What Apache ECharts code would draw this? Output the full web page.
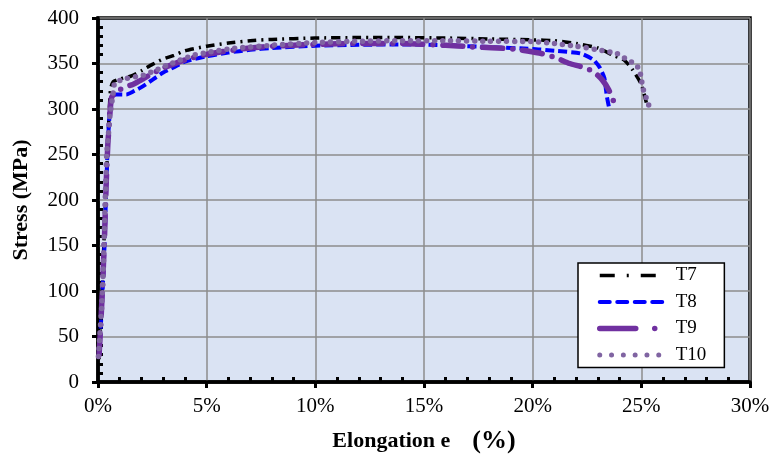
<!DOCTYPE html>
<html>
<head>
<meta charset="utf-8">
<script src="https://cdn.jsdelivr.net/npm/echarts@6/dist/echarts.min.js"></script>
<style>
  html, body { margin: 0; padding: 0; background: #fff; }
  #chart { width: 773px; height: 465px; }
</style>
</head>
<body>
<div id="chart"></div>
<script>
// Tensile test curves: elongation (%) vs. stress (MPa)
const seriesNames = ['T7', 'T8', 'T9', 'T10'];

const t7Strain = [0.05, 0.2, 0.35, 0.45, 0.52, 0.58, 0.7, 1.0, 1.5, 2.0, 2.5, 3.0, 3.5, 4.0, 5.0, 6.0, 7.0, 8.0, 10, 12, 14, 16, 18, 20, 21, 22, 23, 23.7, 24.2, 24.6, 25.0, 25.25];
const t7Stress = [25, 110, 200, 260, 300, 322, 330, 333, 336, 342, 349, 355, 359, 364, 369, 372.5, 375, 376.5, 378, 378.5, 378.5, 378, 377, 376, 375, 372, 367, 359, 354, 343, 327, 305];

const t8Strain = [0.05, 0.15, 0.25, 0.3, 0.4, 0.47, 0.55, 0.65, 0.8, 1.0, 1.3, 1.6, 2.0, 2.5, 3.0, 3.5, 4.0, 5.0, 6.0, 7.0, 8.0, 10, 12, 14, 16, 18, 20, 21, 22.2, 22.8, 23.1, 23.3, 23.38, 23.42, 23.52];
const t8Stress = [30, 70, 120, 150, 230, 270, 298, 312, 316, 316, 316, 319, 324, 332, 340, 346, 352, 358, 362, 365, 367, 369.5, 370.5, 371, 370, 368, 366, 364, 361, 354, 345, 334, 320, 313, 301];

const t9Strain = [0.05, 0.12, 0.2, 0.3, 0.38, 0.45, 0.55, 0.63, 0.86, 1.24, 1.6, 2.0, 2.5, 3.0, 4.0, 5.0, 6.0, 7.0, 8.0, 10, 12, 14, 16, 17.1, 19.1, 20.3, 21.0, 21.7, 22.3, 22.8, 23.2, 23.5, 23.7, 23.8];
const t9Stress = [30, 60, 100, 160, 220, 260, 295, 313, 319, 324, 327, 332, 339, 345, 354, 360, 364, 367, 369, 371, 372, 372, 370, 368.4, 366, 361.5, 357, 350, 346, 341, 332, 321, 310, 302];

const t10Strain = [0.02, 0.08, 0.17, 0.24, 0.32, 0.4, 0.47, 0.55, 0.63, 0.7, 0.78, 1.32, 2.08, 2.6, 3.16, 4.38, 5.0, 6.23, 8.0, 10, 12, 14, 16, 18, 20, 21, 22, 23, 23.87, 24.33, 24.67, 24.91, 25.0, 25.1, 25.25, 25.4];
const t10Stress = [28, 50, 82, 122, 190, 250, 269, 293, 306, 318, 328.8, 333.6, 337, 342, 348, 359, 362, 366.6, 370, 373, 374.5, 375, 375, 374.5, 374, 372, 369, 365, 361, 354.5, 350, 343.5, 332.5, 320.7, 310.5, 300];

const xTicks = { min: 0, max: 30, step: 5 };
const yTicks = { min: 0, max: 400, step: 50 };

function pairs(xs, ys) {
  return xs.map((x, i) => [x, ys[i]]);
}

const serif = 'Liberation Serif';
const chart = echarts.init(document.getElementById('chart'), null, { renderer: 'canvas' });

// stroke styles of the curves
const lineStyles = [
  { color: '#000000', width: 3.5, type: [9, 5, 2, 5], cap: 'butt' },
  { color: '#0000ff', width: 4, type: [9, 4], cap: 'butt' },
  { color: '#7030a0', width: 5.5, type: [20, 10, 0, 10], cap: 'round' },
  { color: '#8064a2', width: 5.5, type: [0, 8], cap: 'round' }
];
// longer dash patterns for the legend keys
const legendDashes = [
  { type: [15, 12, 2, 12], cap: 'butt', width: 3.5 },
  { type: [10, 7.5], cap: 'round', width: 4 },
  { type: [36, 19, 0, 30], cap: 'round', width: 5.5 },
  { type: [0, 11.8], cap: 'round', width: 5 }
];
const dataSets = [
  pairs(t7Strain, t7Stress),
  pairs(t8Strain, t8Stress),
  pairs(t9Strain, t9Stress),
  pairs(t10Strain, t10Stress)
];

chart.setOption({
  animation: false,
  backgroundColor: '#ffffff',
  grid: {
    left: 98, right: 23, top: 18, bottom: 83,
    show: true,
    backgroundColor: '#dae3f3',
    borderColor: '#000000',
    borderWidth: 3.5
  },
  legend: {
    left: 578, top: 263,
    orient: 'vertical',
    backgroundColor: '#ffffff',
    borderColor: '#000000',
    borderWidth: 1.5,
    borderRadius: 0,
    padding: [3, 18, 3, 19],
    itemWidth: 63,
    itemHeight: 14,
    itemGap: 7.5,
    data: seriesNames.map((name, i) => ({ name: name, lineStyle: legendDashes[i] })),
    itemStyle: { opacity: 0 },
    lineStyle: { width: 'inherit', type: 'inherit', cap: 'inherit' },
    textStyle: { fontFamily: serif, fontSize: 19, color: '#000', padding: [0, 0, 0, 8] }
  },
  xAxis: {
    type: 'value',
    min: xTicks.min, max: xTicks.max, interval: xTicks.step,
    name: '{a|Elongation e}{b|(%)}',
    nameLocation: 'middle',
    nameGap: 46,
    nameTextStyle: {
      rich: {
        a: { fontFamily: serif, fontSize: 22, fontWeight: 'bold', color: '#000', padding: [0, 22, 0, 0] },
        b: { fontFamily: serif, fontSize: 26, fontWeight: 'bold', color: '#000' }
      }
    },
    axisLine: { show: true, onZero: false, lineStyle: { color: '#000', width: 3.5 } },
    axisTick: { show: true, length: 6, lineStyle: { color: '#000', width: 3 } },
    minorTick: { show: true, splitNumber: 5, length: -5, lineStyle: { color: '#000', width: 3 } },
    splitLine: { show: true, lineStyle: { color: '#8c8c8c', width: 1.5 } },
    axisLabel: { formatter: '{value}%', fontFamily: serif, fontSize: 21, color: '#000', margin: 14 }
  },
  yAxis: {
    type: 'value',
    min: yTicks.min, max: yTicks.max, interval: yTicks.step,
    name: 'Stress (MPa)',
    nameLocation: 'middle',
    nameGap: 66,
    nameTextStyle: { fontFamily: serif, fontSize: 22, fontWeight: 'bold', color: '#000' },
    axisLine: { show: true, onZero: false, lineStyle: { color: '#000', width: 3.5 } },
    axisTick: { show: true, length: 6, lineStyle: { color: '#000', width: 3 } },
    minorTick: { show: true, splitNumber: 5, length: -5, lineStyle: { color: '#000', width: 3 } },
    splitLine: { show: true, lineStyle: { color: '#8c8c8c', width: 1.5 } },
    axisLabel: { fontFamily: serif, fontSize: 21, color: '#000', margin: 19 }
  },
  series: seriesNames.map((name, i) => ({
    name: name,
    type: 'line',
    data: dataSets[i],
    showSymbol: false,
    symbol: 'none',
    smooth: 0.2,
    color: lineStyles[i].color,
    lineStyle: lineStyles[i],
    z: 2 + i
  }))
});
</script>
</body>
</html>
